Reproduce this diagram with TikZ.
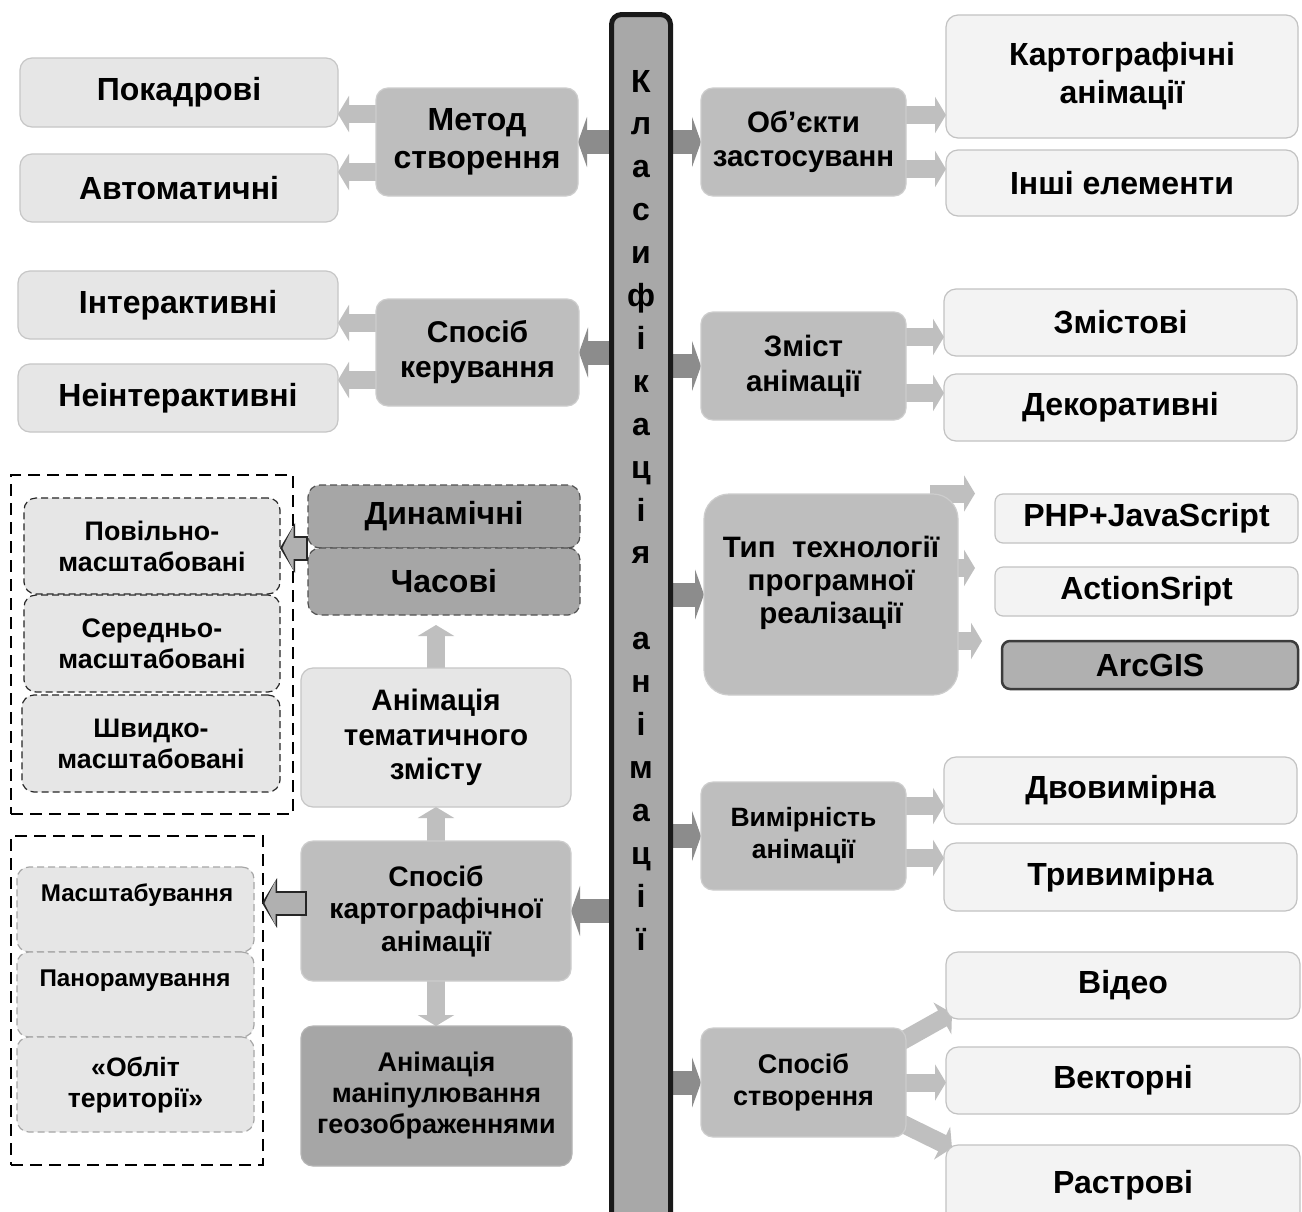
\documentclass[tikz,border=0pt]{standalone}
\usepackage{fontspec}
\setmainfont{Liberation Sans}
\usetikzlibrary{arrows.meta,calc,backgrounds}
\definecolor{cLight}{HTML}{E6E6E6}
\definecolor{cLightB}{HTML}{C6C6C6}
\definecolor{cMid}{HTML}{BEBEBE}
\definecolor{cMidB}{HTML}{CDCDCD}
\definecolor{cDark}{HTML}{A6A6A6}
\definecolor{cDarkB}{HTML}{B4B4B4}
\definecolor{cPale}{HTML}{F3F3F3}
\definecolor{cPaleB}{HTML}{C2C2C2}
\definecolor{cArr}{HTML}{BFBFBF}
\definecolor{cBarArr}{HTML}{8C8C8C}
\definecolor{cBar}{HTML}{A8A8A8}
\definecolor{cInk}{HTML}{262626}
\definecolor{cHol}{HTML}{B0B0B0}
\newcommand\fs[2]{\fontsize{#1}{#2}\selectfont\bfseries}
\newcommand\mybox[7]{\node[#2, minimum width={#5-#3}, minimum height={#6-#4}] (#1) at ({(#3+#5)/2},{(#4+#6)/2}) {#7};}
\tikzset{
  base/.style={inner sep=0pt, outer sep=0pt, align=center, rounded corners=12pt, line width=1.2pt},
  lightbox/.style={base, fill=cLight, draw=cLightB},
  midbox/.style={base, fill=cMid, draw=cMidB},
  darkbox/.style={base, fill=cDark, draw=cDarkB},
  palebox/.style={base, fill=cPale, draw=cPaleB},
  arcbox/.style={base, fill=cHol, draw=cInk!90, line width=2.5pt, rounded corners=8pt},
  dashbox/.style={base, fill=cLight, draw=cInk, dash pattern=on 7pt off 4pt},
  greydash/.style={base, fill=cLight, draw=cDark, dash pattern=on 7pt off 4pt},
  dyndash/.style={base, fill=cDark, draw=cInk!80, dash pattern=on 7pt off 4pt},
  outerdash/.style={inner sep=0pt, outer sep=0pt, draw=black, line width=2pt, dash pattern=on 12pt off 7pt},
  barbox/.style={inner sep=0pt, outer sep=0pt, fill=cBar, draw=black!90, line width=5pt, rounded corners=10pt},
  bararr/.style={draw=cBarArr, line width=24pt, -{Triangle[width=50pt,length=9pt]}},
  subarr/.style={draw=cArr, line width=18pt, -{Triangle[width=36pt,length=11pt]}},
  holout/.style={draw=cInk, line width=25pt, -{Triangle[width=49pt,length=15pt]}},
  holin/.style={draw=cHol, line width=21pt, -{Triangle[width=44pt,length=11pt]}, shorten >=2.5pt, shorten <=2pt},
  fA/.style={font=\fs{32}{38}},
}
\begin{document}
\begin{tikzpicture}[x=1pt,y=-1pt]
\useasboundingbox (0,0) rectangle (1302,1211);
% central bar
\node[barbox, minimum width=59, minimum height=1230] (bar) at (641,629.5) {};
\foreach \ch [count=\i] in {К,л,а,с,и,ф,і,к,а,ц,і,я,{},а,н,і,м,а,ц,і,ї}
  \node[font=\fs{32}{38}, anchor=base, inner sep=0pt] (bl\i) at (641,{82+(\i-1)*42.9+10}) {\ch};

% left column
\mybox{pok}{lightbox,fA}{20}{58}{338}{127}{Покадрові}
\mybox{avt}{lightbox,fA}{20}{154}{338}{222}{Автоматичні}
\mybox{met}{midbox,font=\fs{32}{38}}{376}{88}{578}{196}{Метод\\створення}
\mybox{int}{lightbox,fA}{18}{271}{338}{339}{Інтерактивні}
\mybox{nin}{lightbox,fA}{18}{364}{338}{432}{Неінтерактивні}
\mybox{ker}{midbox,font=\fs{30}{35}}{376}{299}{579}{406}{Спосіб\\керування}

\mybox{od1}{outerdash}{11}{475}{293}{814}{}
\mybox{pov}{dashbox,font=\fs{26.8}{31}}{24}{498}{280}{594}{Повільно-\\масштабовані}
\mybox{ser}{dashbox,font=\fs{26.8}{31}}{24}{595}{280}{692}{Середньо-\\масштабовані}
\mybox{shv}{dashbox,font=\fs{26.8}{31}}{22}{695}{280}{792}{Швидко-\\масштабовані}
\mybox{dyn}{dyndash,fA}{308}{485}{580}{548}{Динамічні}
\mybox{chas}{dyndash,fA}{308}{548}{580}{615}{Часові}
\mybox{tem}{lightbox,font=\fs{29.6}{34.5}}{301}{668}{571}{807}{Анімація\\тематичного\\змісту}

\mybox{od2}{outerdash}{11}{836}{263}{1165}{}
\mybox{mas}{greydash}{17}{867}{254}{952}{}
\mybox{pan}{greydash}{17}{952}{254}{1037}{}
\mybox{obl}{greydash,font=\fs{26.6}{31}}{17}{1037}{254}{1132}{«Обліт\\території»}
\node[font=\fs{24.2}{28}, inner sep=0pt] (mast) at (137,895) {Масштабування};
\node[font=\fs{24.2}{28}, inner sep=0pt] (pant) at (135,981) {Панорамування};
\mybox{kar}{midbox,font=\fs{28.2}{32.5}}{301}{841}{571}{981}{Спосіб\\картографічної\\анімації}
\mybox{man}{darkbox,font=\fs{27}{31}}{301}{1026}{572}{1166}{Анімація\\маніпулювання\\геозображеннями}

% right column
\mybox{obj}{midbox,font=\fs{29.5}{34}}{701}{88}{906}{196}{Об’єкти\\застосуванн}
\mybox{kan}{palebox,font=\fs{32}{38}}{946}{15}{1298}{138}{Картографічні\\анімації}
\mybox{ins}{palebox,fA}{946}{150}{1298}{216}{Інші елементи}
\mybox{zm}{midbox,font=\fs{29.5}{35}}{701}{312}{906}{420}{Зміст\\анімації}
\mybox{zms}{palebox,fA}{944}{289}{1297}{356}{Змістові}
\mybox{dek}{palebox,fA}{944}{374}{1297}{441}{Декоративні}
\mybox{typ}{midbox,rounded corners=25pt}{704}{494}{958}{695}{}
\node[font=\fs{29.5}{33}, align=center, inner sep=0pt] (typt) at (831,583) {Тип\ \ технології\\програмної\\реалізації};
\mybox{php}{palebox,fA,rounded corners=8pt}{995}{494}{1298}{543}{PHP+JavaScript}
\mybox{act}{palebox,fA,rounded corners=8pt}{995}{567}{1298}{616}{ActionSript}
\mybox{arc}{arcbox,fA}{1002}{641}{1298}{689}{ArcGIS}
\mybox{vym}{midbox,font=\fs{26.5}{32}}{701}{782}{906}{890}{Вимірність\\анімації}
\mybox{dvo}{palebox,fA}{944}{757}{1297}{824}{Двовимірна}
\mybox{tri}{palebox,fA}{944}{843}{1297}{911}{Тривимірна}
\mybox{sst}{midbox,font=\fs{27}{32}}{701}{1028}{906}{1137}{Спосіб\\створення}
\mybox{vid}{palebox,fA}{946}{952}{1300}{1019}{Відео}
\mybox{vek}{palebox,fA}{946}{1047}{1300}{1114}{Векторні}
\mybox{ras}{palebox,fA}{946}{1145}{1300}{1225}{Растрові}

% named coordinates for connector ends
\coordinate (a1) at ($(met.west)+(0,28pt)$);
\coordinate (a2) at ($(met.west)+(0,-30pt)$);
\coordinate (a3) at ($(ker.west)+(0,29.5pt)$);
\coordinate (a4) at ($(ker.west)+(0,-27.5pt)$);
\coordinate (b1) at ($(obj.east)+(0,27pt)$);
\coordinate (b2) at ($(obj.east)+(0,-27pt)$);
\coordinate (b3) at ($(zm.east)+(0,29pt)$);
\coordinate (b4) at ($(zm.east)+(0,-27pt)$);
\coordinate (b5) at ($(vym.east)+(0,30pt)$);
\coordinate (b6) at ($(vym.east)+(0,-22pt)$);
\coordinate (t1) at ($(typ.east)+(-28pt,101pt)$);
\coordinate (t2) at ($(typ.east)+(0,26.5pt)$);
\coordinate (t3) at ($(typ.east)+(0,-46.5pt)$);
\coordinate (s1) at ($(sst.east)+(-11pt,37.5pt)$);
\coordinate (s2) at ($(sst.east)+(-11pt,-37.5pt)$);
\coordinate (v1) at ($(vid.south west)+(6pt,6pt)$);
\coordinate (r1) at ($(ras.north west)+(6pt,-3pt)$);
\coordinate (h2) at ($(kar.west)+(6pt,8pt)$);

\begin{scope}[on background layer]
\fill[white] (0,0) rectangle (1302,1211);
% from the central bar
\draw[bararr] (bar.west |- met.east) -- (met.east);
\draw[bararr] (bar.west |- ker.east) -- (ker.east);
\draw[bararr] (bar.west |- kar.east) -- (kar.east);
\draw[bararr] (bar.east |- obj.west) -- (obj.west);
\draw[bararr] (bar.east |- zm.west) -- (zm.west);
\draw[bararr] (bar.east |- typ.west) -- (typ.west);
\draw[bararr] (bar.east |- vym.west) -- (vym.west);
\draw[bararr] (bar.east |- sst.west) -- (sst.west);
% sub-arrows
\draw[subarr] (a1) -- (a1 -| pok.east);
\draw[subarr] (a2) -- (a2 -| avt.east);
\draw[subarr] (a3) -- (a3 -| int.east);
\draw[subarr] (a4) -- (a4 -| nin.east);
\draw[subarr] (b1) -- (b1 -| kan.west);
\draw[subarr] (b2) -- (b2 -| ins.west);
\draw[subarr] (b3) -- (b3 -| zms.west);
\draw[subarr] (b4) -- (b4 -| dek.west);
\draw[subarr] (b5) -- (b5 -| dvo.west);
\draw[subarr] (b6) -- (b6 -| tri.west);
\draw[subarr, shorten >=20pt] (t1) -- (t1 -| php.west);
\draw[subarr, shorten >=20pt] (t2) -- (t2 -| act.west);
\draw[subarr, shorten >=20pt] (t3) -- (t3 -| arc.west);
\draw[subarr] (s1) -- (v1);
\draw[subarr] (sst.east) -- (sst.east -| vek.west);
\draw[subarr] (s2) -- (r1);
\draw[subarr, shorten >=10pt] (tem.north) -- (tem.north |- chas.south);
\draw[subarr] (kar.north) -- (kar.north |- tem.south);
\draw[subarr] (kar.south) -- (kar.south |- man.north);
\end{scope}

% outlined arrows
\draw[holout] (dyn.south west) -- (dyn.south west -| pov.east);
\draw[holin] (dyn.south west) -- (dyn.south west -| pov.east);
\draw[holout, shorten >=8pt] (h2) -- (h2 -| mas.east);
\draw[holin, shorten >=10.5pt] (h2) -- (h2 -| mas.east);
\end{tikzpicture}
\end{document}
